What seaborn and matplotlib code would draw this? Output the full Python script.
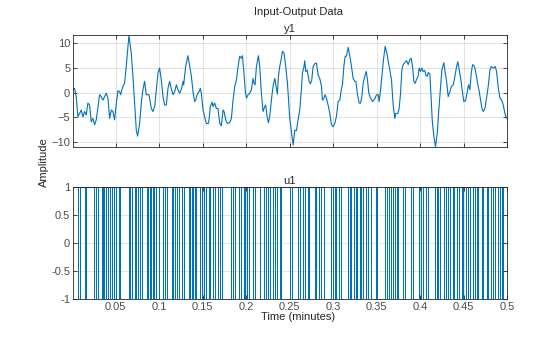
import matplotlib
matplotlib.use("Agg")
import matplotlib.pyplot as plt
import numpy as np
import pandas as pd
import seaborn as sns

# ---- data ------------------------------------------------------------------
# output channel y1 (amplitude vs. time in minutes)
y1_time = [
    0.0010, 0.0028, 0.0047, 0.0066, 0.0086, 0.0105, 0.0124, 0.0143, 0.0162, 0.0181,
    0.0201, 0.0220, 0.0239, 0.0258, 0.0277, 0.0316, 0.0335, 0.0354, 0.0392, 0.0412,
    0.0431, 0.0450, 0.0469, 0.0488, 0.0508, 0.0527, 0.0546, 0.0557, 0.0584, 0.0603,
    0.0622, 0.0653, 0.0680, 0.0699, 0.0718, 0.0738, 0.0753, 0.0776, 0.0795, 0.0814,
    0.0833, 0.0853, 0.0883, 0.0891, 0.0910, 0.0929, 0.0949, 0.0968, 0.0987, 0.1006,
    0.1025, 0.1045, 0.1064, 0.1083, 0.1102, 0.1121, 0.1133, 0.1160, 0.1179, 0.1198,
    0.1217, 0.1236, 0.1259, 0.1275, 0.1282, 0.1305, 0.1332, 0.1352, 0.1371, 0.1390,
    0.1409, 0.1421, 0.1436, 0.1459, 0.1474, 0.1486, 0.1505, 0.1524, 0.1543, 0.1563,
    0.1574, 0.1589, 0.1609, 0.1620, 0.1639, 0.1658, 0.1677, 0.1697, 0.1716, 0.1735,
    0.1747, 0.1766, 0.1785, 0.1812, 0.1831, 0.1850, 0.1870, 0.1889, 0.1908, 0.1927,
    0.1946, 0.1958, 0.1973, 0.1992, 0.2004, 0.2023, 0.2042, 0.2061, 0.2080, 0.2092,
    0.2103, 0.2119, 0.2142, 0.2157, 0.2176, 0.2195, 0.2215, 0.2226, 0.2242, 0.2257,
    0.2272, 0.2291, 0.2310, 0.2330, 0.2349, 0.2360, 0.2372, 0.2387, 0.2406, 0.2418,
    0.2437, 0.2456, 0.2476, 0.2495, 0.2502, 0.2541, 0.2560, 0.2579, 0.2598, 0.2617,
    0.2636, 0.2648, 0.2663, 0.2675, 0.2686, 0.2702, 0.2725, 0.2740, 0.2755, 0.2771,
    0.2790, 0.2809, 0.2828, 0.2847, 0.2867, 0.2878, 0.2894, 0.2909, 0.2924, 0.2943,
    0.2963, 0.2982, 0.3001, 0.3020, 0.3039, 0.3058, 0.3078, 0.3097, 0.3108, 0.3124,
    0.3139, 0.3154, 0.3174, 0.3193, 0.3212, 0.3231, 0.3251, 0.3262, 0.3281, 0.3300,
    0.3316, 0.3331, 0.3346, 0.3365, 0.3381, 0.3396, 0.3411, 0.3431, 0.3454, 0.3469,
    0.3484, 0.3500, 0.3519, 0.3530, 0.3546, 0.3561, 0.3580, 0.3599, 0.3619, 0.3638,
    0.3653, 0.3672, 0.3691, 0.3711, 0.3722, 0.3745, 0.3760, 0.3776, 0.3791, 0.3806,
    0.3826, 0.3845, 0.3864, 0.3883, 0.3898, 0.3914, 0.3929, 0.3944, 0.3960, 0.3979,
    0.3990, 0.4006, 0.4021, 0.4036, 0.4056, 0.4067, 0.4083, 0.4094, 0.4113, 0.4125,
    0.4140, 0.4159, 0.4178, 0.4198, 0.4217, 0.4236, 0.4251, 0.4274, 0.4290, 0.4305,
    0.4324, 0.4343, 0.4362, 0.4382, 0.4401, 0.4420, 0.4435, 0.4451, 0.4470, 0.4489,
    0.4504, 0.4524, 0.4543, 0.4558, 0.4573, 0.4589, 0.4604, 0.4627, 0.4642, 0.4658,
    0.4681, 0.4696, 0.4712, 0.4727, 0.4746, 0.4765, 0.4784, 0.4804, 0.4819, 0.4842,
    0.4865, 0.4880, 0.4900, 0.4919, 0.4938, 0.4957, 0.4976, 0.4995,
]
y1_value = [
    0.6, 0.9, -0.8, -4.9, -4.2, -3.5, -4.9, -3.8, -4.5, -2.1,
    -2.5, -5.9, -5.2, -6.5, -5.5, -0.4, -0.8, -1.5, -0.1, -1.1,
    -5.2, -3.5, -3.8, -5.5, -2.1, 0.4, 0.2, -0.4, 1.3, 1.9,
    5.3, 11.6, 8.0, 3.3, -2.1, -7.6, -8.8, -6.2, -2.1, 0.6,
    2.3, -0.4, -0.4, -1.1, -3.2, -3.8, -2.8, 0.6, 4.0, 5.0,
    2.6, -0.8, -2.5, -2.5, 0.9, 2.3, 1.3, -0.4, 0.2, 1.6,
    0.6, -0.1, 0.9, 2.3, 1.6, 5.3, 7.5, 5.3, 3.3, 0.2,
    -1.8, -1.5, -0.4, 0.2, 0.9, -0.1, -3.5, -4.9, -6.2, -6.3,
    -5.5, -2.8, -1.9, -2.8, -2.1, -3.2, -3.2, -6.2, -6.7, -3.5,
    -3.8, -5.5, -6.2, -6.1, -5.2, -1.5, 1.3, 2.6, 5.3, 7.4,
    7.0, 7.5, 4.6, 0.2, -1.1, -0.4, -0.1, 0.6, 2.9, 1.9,
    1.6, 5.3, 7.5, 5.3, -0.1, -3.8, -2.8, -2.5, -4.8, -6.1,
    -4.8, -1.5, 1.3, 2.9, 0.9, -0.3, 3.3, 5.3, 7.0, 8.4,
    8.0, 5.3, 1.9, -3.5, -5.2, -10.6, -7.6, -7.7, -5.5, -3.5,
    0.6, 4.0, 5.0, 6.5, 4.3, 4.6, 2.3, 1.8, 2.6, 5.3,
    5.9, 6.0, 3.6, 2.9, 1.3, -1.5, -1.1, -0.4, -1.1, -2.5,
    -4.2, -6.5, -6.9, -6.2, -4.8, -1.8, -1.5, 0.9, 1.6, 5.3,
    7.4, 7.4, 9.2, 7.4, 5.3, 2.9, 2.3, 2.3, -0.4, -2.1,
    -2.1, -0.8, 1.9, 3.3, 4.3, 2.6, -0.1, -1.1, -1.8, -1.5,
    -1.1, -0.4, -0.4, -1.8, 0.6, 3.3, 6.7, 9.4, 8.0, 6.0,
    4.6, 2.6, -2.5, -5.2, -4.2, -4.2, -3.2, -0.1, 4.6, 5.7,
    6.1, 6.5, 5.7, 6.7, 7.0, 5.3, 2.3, 1.9, 2.7, 3.4,
    5.0, 4.3, 5.0, 4.3, 4.5, 3.6, 3.3, 4.1, 3.8, -0.1,
    -5.5, -8.9, -10.9, -8.2, -3.2, 1.3, 4.6, 6.1, 4.0, 2.3,
    -0.8, 0.2, 1.3, 1.6, 3.3, 5.3, 6.3, 4.6, 2.6, -0.1,
    -1.8, -1.6, 0.2, 1.6, 0.6, 4.0, 5.7, 5.3, 4.0, 2.3,
    0.2, -1.5, -3.2, -3.8, -3.2, -1.1, 1.3, 4.6, 5.3, 5.0,
    5.3, 4.3, 0.9, -1.1, -1.5, -2.5, -4.2, -5.2,
]

# input channel u1: binary signal switching between +1 and -1
u1_start_level = 1
u1_switch_time = [
    0.0070, 0.0089, 0.0147, 0.0162, 0.0254, 0.0277, 0.0297, 0.0339, 0.0354, 0.0369,
    0.0392, 0.0408, 0.0431, 0.0457, 0.0484, 0.0507, 0.0534, 0.0546, 0.0653, 0.0669,
    0.0692, 0.0718, 0.0737, 0.0757, 0.0776, 0.0803, 0.0856, 0.0872, 0.0895, 0.0910,
    0.0929, 0.0945, 0.0968, 0.0998, 0.1044, 0.1071, 0.1090, 0.1148, 0.1163, 0.1182,
    0.1205, 0.1228, 0.1259, 0.1282, 0.1340, 0.1355, 0.1374, 0.1393, 0.1409, 0.1428,
    0.1466, 0.1493, 0.1512, 0.1543, 0.1570, 0.1589, 0.1620, 0.1639, 0.1677, 0.1697,
    0.1727, 0.1831, 0.1850, 0.1877, 0.1919, 0.1942, 0.1973, 0.1992, 0.2011, 0.2034,
    0.2080, 0.2099, 0.2157, 0.2207, 0.2234, 0.2253, 0.2280, 0.2310, 0.2337, 0.2360,
    0.2387, 0.2406, 0.2502, 0.2533, 0.2598, 0.2617, 0.2656, 0.2675, 0.2713, 0.2725,
    0.2790, 0.2809, 0.2840, 0.2867, 0.2894, 0.2982, 0.3001, 0.3020, 0.3039, 0.3070,
    0.3089, 0.3174, 0.3193, 0.3212, 0.3239, 0.3262, 0.3277, 0.3308, 0.3327, 0.3346,
    0.3377, 0.3404, 0.3442, 0.3492, 0.3511, 0.3596, 0.3615, 0.3642, 0.3665, 0.3691,
    0.3711, 0.3730, 0.3749, 0.3799, 0.3826, 0.3895, 0.3914, 0.3991, 0.4010, 0.4037,
    0.4064, 0.4087, 0.4171, 0.4190, 0.4210, 0.4229, 0.4275, 0.4294, 0.4324, 0.4343,
    0.4374, 0.4393, 0.4420, 0.4447, 0.4477, 0.4497, 0.4523, 0.4554, 0.4573, 0.4612,
    0.4631, 0.4650, 0.4669, 0.4708, 0.4727, 0.4765, 0.4784, 0.4811, 0.4842, 0.4861,
    0.4899, 0.4919, 0.4938, 0.4949,
]

time_start, time_end = 0.001, 0.5
x_ticks = [0.05, 0.1, 0.15, 0.2, 0.25, 0.3, 0.35, 0.4, 0.45, 0.5]
x_tick_labels = ["0.05", "0.1", "0.15", "0.2", "0.25", "0.3", "0.35", "0.4", "0.45", "0.5"]
y1_ticks = [-10, -5, 0, 5, 10]
u1_ticks = [-1, -0.5, 0, 0.5, 1]
u1_tick_labels = ["-1", "-0.5", "0", "0.5", "1"]

# ---- step representation of u1 ---------------------------------------------
levels = [u1_start_level]
for _ in u1_switch_time:
    levels.append(-levels[-1])
u1_df = pd.DataFrame({
    "time": [time_start] + u1_switch_time + [time_end],
    "u1": levels + [levels[-1]],
})
y1_df = pd.DataFrame({"time": y1_time, "y1": y1_value})

# ---- styling ----------------------------------------------------------------
sns.set_theme(style="white")
plt.rcParams["font.family"] = ["Liberation Sans", "DejaVu Sans"]
line_color = "#0072BD"
edge_color = "#262626"
label_color = "#4D4D4D"

fig = plt.figure(figsize=(5.6, 3.37), dpi=100)
ax_y = fig.add_axes([73 / 560, 1 - 147 / 337, 434 / 560, 112 / 337])
ax_u = fig.add_axes([73 / 560, 1 - 299 / 337, 434 / 560, 112 / 337])

sns.lineplot(data=y1_df, x="time", y="y1", ax=ax_y, color=line_color,
             linewidth=0.8, sort=False)
sns.lineplot(data=u1_df, x="time", y="u1", ax=ax_u, color=line_color,
             linewidth=0.75, drawstyle="steps-post", sort=False)

for ax in (ax_y, ax_u):
    ax.set_xlim(time_start, time_end)
    ax.set_xticks(x_ticks)
    ax.grid(True, color=edge_color, alpha=0.15, linewidth=0.6)
    ax.set_axisbelow(True)
    for spine in ax.spines.values():
        spine.set_color(edge_color)
        spine.set_linewidth(0.6)
    ax.tick_params(direction="in", length=3, width=0.6, colors=edge_color,
                   labelcolor=label_color, labelsize=8, pad=2,
                   top=True, right=True, bottom=True, left=True)
    ax.set_xlabel("")
    ax.set_ylabel("")

ax_y.set_ylim(-11.0, 11.7)
ax_y.set_yticks(y1_ticks)
ax_y.set_xticklabels([])
ax_y.set_title("y1", fontsize=8, color=edge_color, pad=2)

ax_u.set_ylim(-1, 1)
ax_u.set_yticks(u1_ticks)
ax_u.set_yticklabels(u1_tick_labels)
ax_u.set_xticklabels(x_tick_labels)
ax_u.set_title("u1", fontsize=8, color=edge_color, pad=2)

fig.text(298 / 560, 1 - 12 / 337, "Input-Output Data", ha="center", va="center",
         fontsize=8, color=edge_color)
fig.text(298 / 560, 1 - 317 / 337, "Time (minutes)", ha="center", va="center",
         fontsize=8, color=edge_color)
fig.text(44 / 560, 1 - 162 / 337, "Amplitude", ha="center", va="center",
         rotation=90, fontsize=8, color=edge_color)

fig.savefig("out.png", dpi=100, facecolor="white")
